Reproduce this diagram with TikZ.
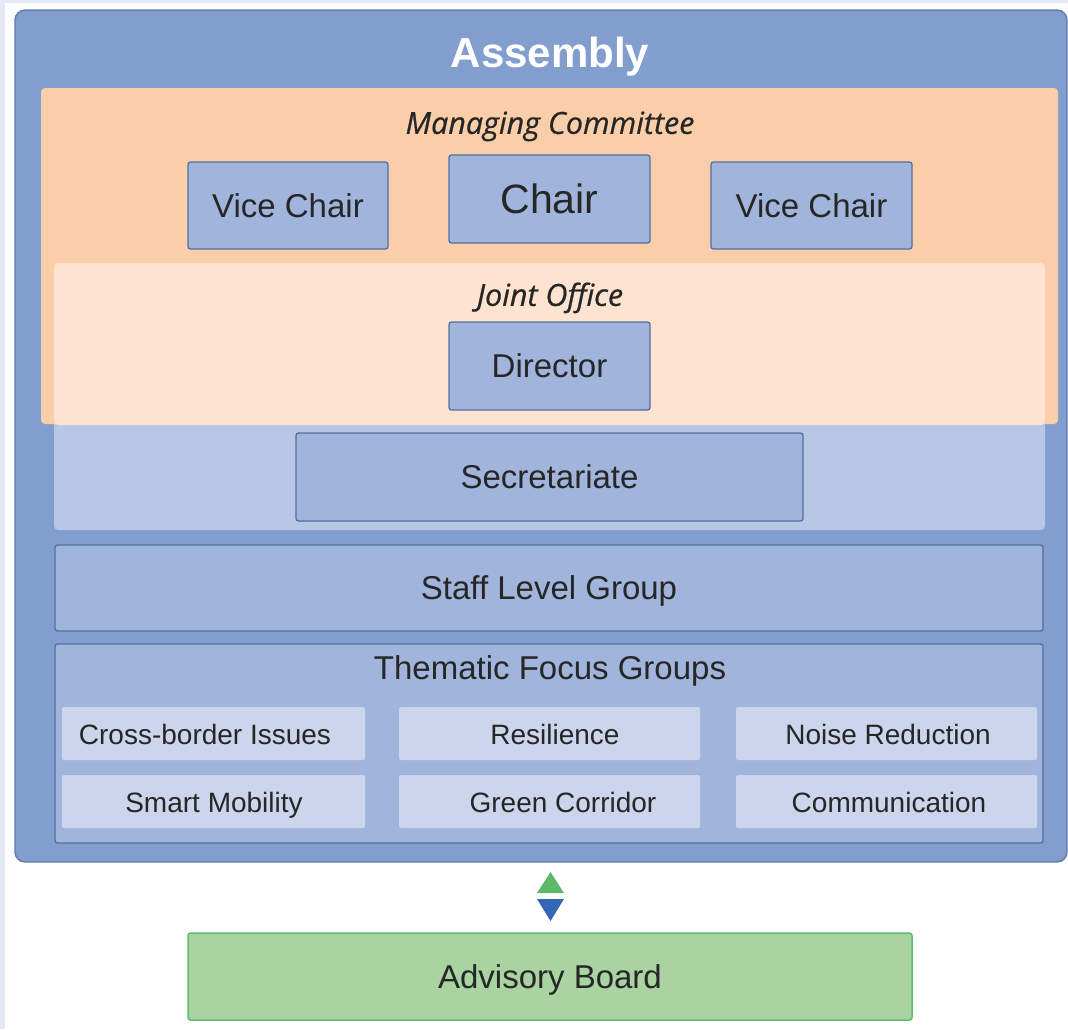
\documentclass[tikz,border=0pt]{standalone}
\usepackage{fontspec}
\setmainfont{Liberation Sans}
\newfontfamily\itfont{Open Sans}[FakeBold=0.6]
\definecolor{bgl}{HTML}{E5E8F5}
\definecolor{asmfill}{HTML}{829ECE}
\definecolor{asmdraw}{HTML}{5B78A8}
\definecolor{boxfill}{HTML}{A1B4DB}
\definecolor{boxdraw}{HTML}{50709F}
\definecolor{orangef}{HTML}{FBCEAA}
\definecolor{peachf}{HTML}{FDE3D0}
\definecolor{lbluef}{HTML}{B9C7E6}
\definecolor{subf}{HTML}{CDD5EC}
\definecolor{txt}{HTML}{262626}
\definecolor{grf}{HTML}{A9D3A0}
\definecolor{grd}{HTML}{5DBE6E}
\definecolor{arrg}{HTML}{5CB96A}
\definecolor{arrb}{HTML}{3566B5}
\tikzset{
  region/.style={rectangle, inner sep=0pt, rounded corners=4pt},
  capfix/.style={text height=#1, text depth=0pt},
  unitbox/.style={rectangle, inner sep=0pt, capfix=23.6pt, rounded corners=2.5pt, fill=boxfill, draw=boxdraw, line width=1.3pt, text=txt, font=\fontsize{33}{38}\selectfont},
  subbox/.style={rectangle, inner sep=0pt, rounded corners=2pt, fill=subf, text=txt},
  sublabel/.style={text=txt, inner sep=0pt, capfix=20pt, font=\fontsize{28}{32}\selectfont},
  itlabel/.style={text=txt, inner sep=0pt, capfix=21.8pt, font=\itfont\itshape\fontsize{30.5}{34}\selectfont},
}
\begin{document}
\begin{tikzpicture}[x=1pt,y=-1pt]
\useasboundingbox (0,0) rectangle (1068,1029);
\fill[bgl] (0,0) rectangle (1068,1029);
\fill[white] (5,3) rectangle (1068,1029);
% assembly
\node[region, rounded corners=10pt, fill=asmfill, draw=asmdraw, line width=1.3pt, minimum width=1052pt, minimum height=852pt] (asm) at (541,436) {};
\node[text=white, inner sep=0pt, capfix=30pt, font=\bfseries\fontsize{42}{48}\selectfont] (asmtitle) at (550,52) {Assembly};
% containers
\node[region, fill=lbluef, minimum width=991pt, minimum height=267pt] (secc) at (549.5,396.5) {};
\node[region, fill=orangef, minimum width=1017pt, minimum height=336pt] (mc) at (549.5,256) {};
\node[region, fill=peachf, minimum width=991pt, minimum height=162pt] (jo) at (549.5,344) {};
\node[itlabel] (mctitle) at (550,123) {Managing Committee};
\node[itlabel] (jotitle) at (550,295) {Joint Office};
% managing committee
\node[unitbox, minimum width=200pt, minimum height=87pt] (vc1) at (288,205.5) {Vice Chair};
\node[unitbox, minimum width=201pt, minimum height=88pt, capfix=29.4pt, font=\fontsize{41}{46}\selectfont] (chair) at (549.5,199) {Chair};
\node[unitbox, minimum width=201pt, minimum height=87pt] (vc2) at (811.5,205.5) {Vice Chair};
\node[unitbox, minimum width=201pt, minimum height=88pt] (dir) at (549.5,366) {Director};
\node[unitbox, minimum width=507pt, minimum height=88pt] (sec) at (549.5,477) {Secretariate};
\node[unitbox, minimum width=988pt, minimum height=86pt] (slg) at (549,588) {Staff Level Group};
\node[unitbox, minimum width=988pt, minimum height=199pt] (tfg) at (549,743.5) {};
\node[text=txt, inner sep=0pt, capfix=23.6pt, font=\fontsize{33}{38}\selectfont] (tfgtitle) at (550,668) {Thematic Focus Groups};
% thematic sub boxes
\node[subbox, minimum width=303pt, minimum height=53pt] (s1) at (213.5,733.5) {};
\node[subbox, minimum width=301pt, minimum height=53pt] (s2) at (549.5,733.5) {};
\node[subbox, minimum width=301pt, minimum height=53pt] (s3) at (886.5,733.5) {};
\node[subbox, minimum width=303pt, minimum height=53pt] (s4) at (213.5,801.5) {};
\node[subbox, minimum width=301pt, minimum height=53pt] (s5) at (549.5,801.5) {};
\node[subbox, minimum width=301pt, minimum height=53pt] (s6) at (886.5,801.5) {};
\node[sublabel] (l1) at (205,734) {Cross-border Issues};
\node[sublabel] (l2) at (555,734) {Resilience};
\node[sublabel] (l3) at (888,734) {Noise Reduction};
\node[sublabel] (l4) at (214,802) {Smart Mobility};
\node[sublabel] (l5) at (563,802) {Green Corridor};
\node[sublabel] (l6) at (889,802) {Communication};
% advisory board
\node[rectangle, inner sep=0pt, capfix=23.6pt, rounded corners=2.5pt, fill=grf, draw=grd, line width=1.5pt, text=txt, font=\fontsize{33}{38}\selectfont, minimum width=724pt, minimum height=87pt] (adv) at (550,976.5) {Advisory Board};
% two-way arrow heads
\coordinate (up) at (550.5,872);
\coordinate (dn) at (550.5,921);
\fill[arrg] (up) -- ++(13.5,21) -- ++(-27,0) -- cycle;
\fill[arrb] (dn) -- ++(13.5,-22) -- ++(-27,0) -- cycle;
\end{tikzpicture}
\end{document}
